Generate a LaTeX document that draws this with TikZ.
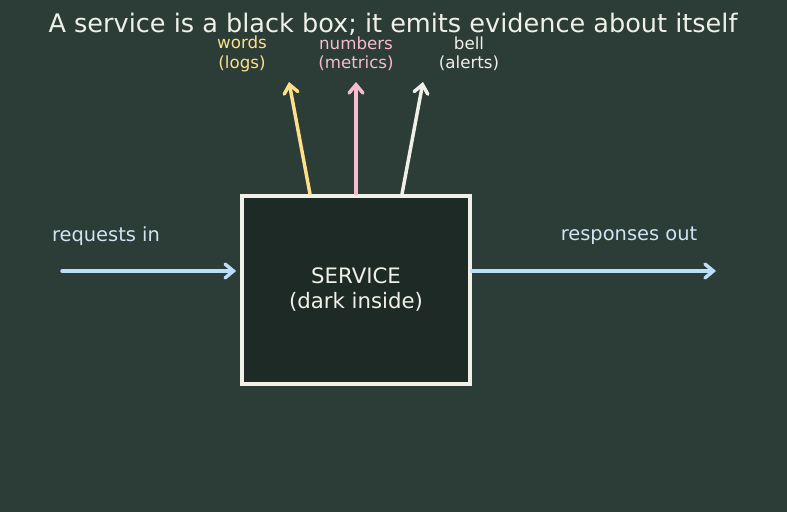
\documentclass[tikz,border=0pt]{standalone}
\usepackage{fontspec}
\setmainfont{DejaVu Sans}
\usetikzlibrary{arrows.meta, positioning, calc}
\definecolor{bgdark}{RGB}{44,60,54}
\definecolor{boxdark}{RGB}{30,42,37}
\definecolor{chalk}{RGB}{240,240,232}
\definecolor{logyellow}{RGB}{255,224,138}
\definecolor{metricpink}{RGB}{248,187,208}
\definecolor{flowblue}{RGB}{187,222,251}
\definecolor{labelblue}{RGB}{208,228,242}

\begin{document}
\begin{tikzpicture}[
  x=0.72pt, y=-0.72pt,
  svcbox/.style = {
    rectangle, draw=chalk, line width=2.6pt, fill=boxdark,
    minimum width=164pt, minimum height=135pt,
    font=\fontsize{15.3}{18}\selectfont, text=chalk, align=center
  },
  sig/.style = {font=\fontsize{12}{14}\selectfont, align=center, inner sep=0pt},
  side/.style = {font=\fontsize{14}{17}\selectfont, text=labelblue},
  arr/.style = {-{Straight Barb[length=6pt, width=10pt, line cap=round]}, line width=2.5pt, line cap=round}
]
\fill[bgdark] (0,0) rectangle (787,512);
\useasboundingbox (0,0) rectangle (787,512);

\node[font=\fontsize{18.4}{22}\selectfont, text=chalk, inner sep=0pt] (title) at (393,24)
  {A service is a black box; it emits evidence about itself};

\node[svcbox] (svc) at (356,290) {SERVICE\\(dark inside)};

% signals leaving the top
\node[sig, text=logyellow]  (logs)    at (242,54) {words\\(logs)};
\node[sig, text=metricpink] (metrics) at (356,54) {numbers\\(metrics)};
\node[sig, text=chalk]      (alerts)  at (469,54) {bell\\(alerts)};
\coordinate (logsend)    at (289,82);
\coordinate (metricsend) at (356,82);
\coordinate (alertsend)  at (423,82);
\coordinate (logsfrom)    at (310,194);
\coordinate (metricsfrom) at (356,194);
\coordinate (alertsfrom)  at (402,194);
\draw[arr, logyellow]  (logsfrom)    -- (logsend);
\draw[arr, metricpink] (metricsfrom) -- (metricsend);
\draw[arr, chalk]      (alertsfrom)  -- (alertsend);

% traffic through the box
\node[side] (reqin)   at (106,236) {requests in};
\node[side] (respout) at (629,236) {responses out};
\coordinate (reqstart) at (62,271);
\coordinate (respend)  at (716,271);
\draw[arr, flowblue] (reqstart) -- ([xshift=-3pt]svc.west |- reqstart);
\draw[arr, flowblue] (svc.east |- respend) -- (respend);
\end{tikzpicture}
\end{document}
